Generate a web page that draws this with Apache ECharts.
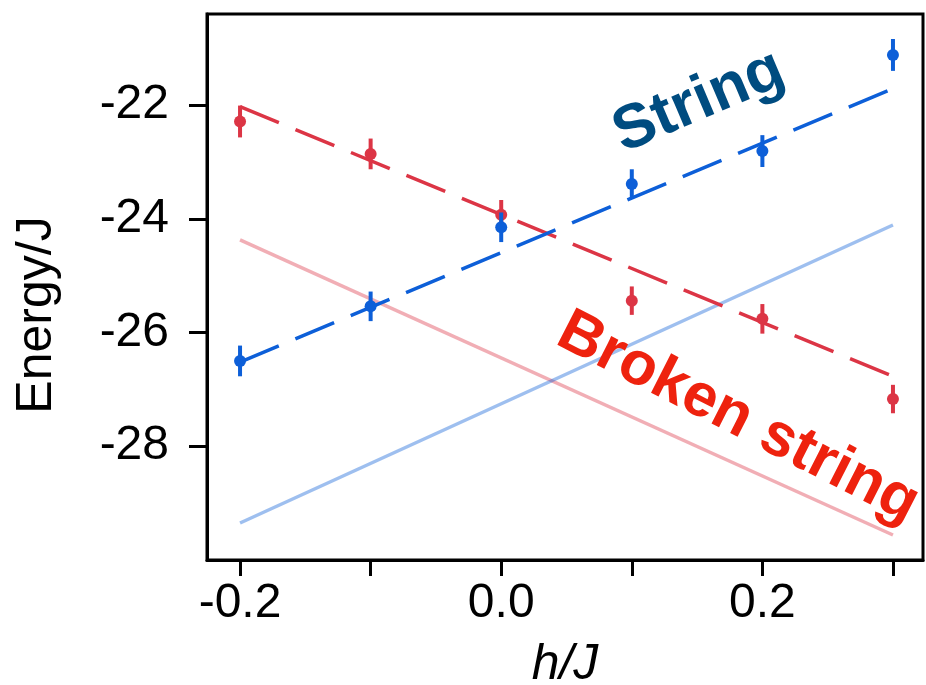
<!DOCTYPE html>
<html>
<head>
<meta charset="utf-8">
<script src="https://cdn.jsdelivr.net/npm/echarts@6/dist/echarts.min.js"></script>
<style>html,body{margin:0;padding:0;background:#fff;}#chart{width:926px;height:685px;}</style>
</head>
<body>
<div id="chart"></div>
<script>
const xValues = [-0.2, -0.1, 0.0, 0.1, 0.2, 0.3];
const brokenEnergy = [-22.29, -22.86, -23.93, -25.44, -25.76, -27.17];
const brokenErr = [0.28, 0.27, 0.26, 0.25, 0.26, 0.25];
const stringEnergy = [-26.50, -25.54, -24.15, -23.39, -22.81, -21.12];
const stringErr = [0.27, 0.26, 0.26, 0.26, 0.28, 0.28];
const fitX = [-0.2, 0.3];
const brokenFit = [-22.03, -26.77];
const stringFit = [-26.52, -21.71];
const brokenTheory = [-24.37, -29.56];
const stringTheory = [-29.35, -24.11];
const xTicks = [-0.2, -0.1, 0.0, 0.1, 0.2, 0.3];
const xTickLabels = [-0.2, 0.0, 0.2];
const yTicks = [-28, -26, -24, -22];

const RED = '#dc3545';
const BLUE = '#0d5fd8';
const FONT = 'Liberation Sans';

const pairs = (xs, ys) => xs.map((x, i) => [x, ys[i]]);
const triples = (xs, ys, es) => xs.map((x, i) => [x, ys[i], es[i]]);

function errRender(color) {
  return function (params, api) {
    const x = api.value(0), y = api.value(1), e = api.value(2);
    const p1 = api.coord([x, y + e]);
    const p2 = api.coord([x, y - e]);
    return {
      type: 'line',
      shape: { x1: p1[0], y1: p1[1], x2: p2[0], y2: p2[1] },
      style: { stroke: color, lineWidth: 4 }
    };
  };
}

const chart = echarts.init(document.getElementById('chart'), null, { renderer: 'canvas' });
chart.setOption({
  animation: false,
  backgroundColor: '#fff',
  grid: { left: 207, right: 3, top: 14, bottom: 125, containLabel: false, outerBoundsMode: 'none',
    show: true, borderColor: '#000', borderWidth: 3, backgroundColor: 'transparent' },
  xAxis: {
    type: 'value', min: -0.2253, max: 0.323,
    name: 'h/J', nameLocation: 'middle', nameGap: 80,
    nameTextStyle: { fontFamily: FONT, fontSize: 50, fontStyle: 'italic', color: '#000' },
    axisLine: { show: true, onZero: false, lineStyle: { color: '#000', width: 3 } },
    axisTick: { show: true, inside: false, length: 16, lineStyle: { color: '#000', width: 3 }, customValues: xTicks },
    axisLabel: { show: true, margin: 20, fontFamily: FONT, fontSize: 48, color: '#000',
      customValues: xTickLabels, formatter: v => v.toFixed(1) },
    splitLine: { show: false }
  },
  yAxis: {
    type: 'value', min: -30.0, max: -20.4,
    name: 'Energy/J', nameLocation: 'middle', nameGap: 145, nameRotate: 90,
    nameTextStyle: { fontFamily: FONT, fontSize: 50, color: '#000', padding: [0, 56, 0, 0] },
    axisLine: { show: true, onZero: false, lineStyle: { color: '#000', width: 3 } },
    axisTick: { show: true, inside: false, length: 18, lineStyle: { color: '#000', width: 3 }, customValues: yTicks },
    axisLabel: { show: true, margin: 38, fontFamily: FONT, fontSize: 48, color: '#000',
      customValues: yTicks, formatter: v => String(v) },
    splitLine: { show: false }
  },
  series: [
    { type: 'line', data: pairs(fitX, brokenTheory), symbol: 'none', z: 1,
      lineStyle: { color: 'rgba(220,53,69,0.4)', width: 3.5 } },
    { type: 'line', data: pairs(fitX, stringTheory), symbol: 'none', z: 1,
      lineStyle: { color: 'rgba(13,95,216,0.4)', width: 3.5 } },
    { type: 'line', data: pairs(fitX, brokenFit), symbol: 'none', z: 2,
      lineStyle: { color: RED, width: 3.5, type: [42, 18] } },
    { type: 'line', data: pairs(fitX, stringFit), symbol: 'none', z: 2,
      lineStyle: { color: BLUE, width: 3.5, type: [42, 18] } },
    { type: 'custom', data: triples(xValues, brokenEnergy, brokenErr), renderItem: errRender(RED), z: 3 },
    { type: 'scatter', data: pairs(xValues, brokenEnergy), symbol: 'circle', symbolSize: 12, z: 3,
      itemStyle: { color: RED, opacity: 1 } },
    { type: 'custom', data: triples(xValues, stringEnergy, stringErr), renderItem: errRender(BLUE), z: 4 },
    { type: 'scatter', data: pairs(xValues, stringEnergy), symbol: 'circle', symbolSize: 12, z: 4,
      itemStyle: { color: BLUE, opacity: 1 } }
  ],
  graphic: [
    { type: 'text', x: 699, y: 102, rotation: 23 * Math.PI / 180, z: 10,
      style: { text: 'String', fontFamily: FONT, fontWeight: 'bold', fontSize: 62, fill: '#004c80',
        align: 'center', verticalAlign: 'middle' } },
    { type: 'text', x: 738, y: 418, rotation: -27 * Math.PI / 180, z: 10,
      style: { text: 'Broken string', fontFamily: FONT, fontWeight: 'bold', fontSize: 61, fill: '#ee220e',
        align: 'center', verticalAlign: 'middle' } }
  ]
});
</script>
</body>
</html>
